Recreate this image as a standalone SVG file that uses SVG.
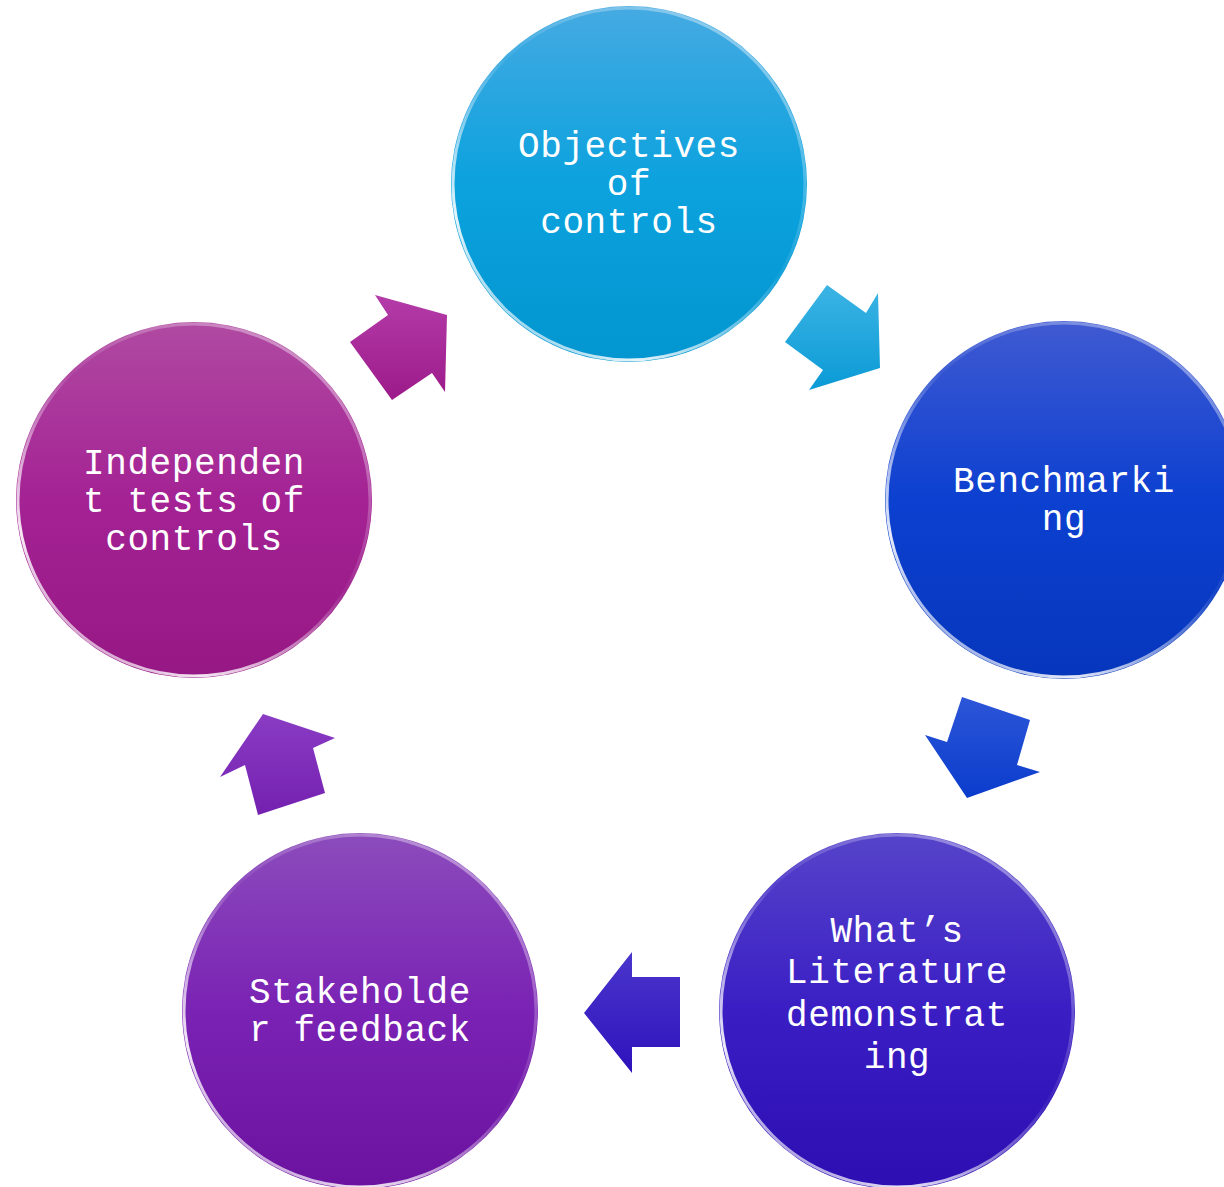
<svg xmlns="http://www.w3.org/2000/svg" width="1224" height="1187" viewBox="0 0 1224 1187">
<defs>
<style>
.lbl{font-family:"Liberation Mono","Courier New",monospace;font-size:36px;fill:#ffffff;text-anchor:middle;letter-spacing:0.6px}
.rim{fill:none;stroke-width:3}
</style>
<linearGradient id="g1" x1="0" y1="0" x2="0" y2="1"><stop offset="0" stop-color="#46aae2"/><stop offset="0.5" stop-color="#0ba2de"/><stop offset="1" stop-color="#0396d0"/></linearGradient>
<linearGradient id="g2" x1="0" y1="0" x2="0" y2="1"><stop offset="0" stop-color="#405ad2"/><stop offset="0.5" stop-color="#0c40d0"/><stop offset="1" stop-color="#0636bc"/></linearGradient>
<linearGradient id="g3" x1="0" y1="0" x2="0" y2="1"><stop offset="0" stop-color="#5644ca"/><stop offset="0.5" stop-color="#3a1ec4"/><stop offset="1" stop-color="#2c0eb2"/></linearGradient>
<linearGradient id="g4" x1="0" y1="0" x2="0" y2="1"><stop offset="0" stop-color="#8c4cbc"/><stop offset="0.5" stop-color="#7a22b4"/><stop offset="1" stop-color="#6c12a0"/></linearGradient>
<linearGradient id="g5" x1="0" y1="0" x2="0" y2="1"><stop offset="0" stop-color="#b04aa2"/><stop offset="0.5" stop-color="#a42294"/><stop offset="1" stop-color="#961884"/></linearGradient>
<linearGradient id="rimg" x1="0.9" y1="0" x2="0.1" y2="1"><stop offset="0" stop-color="#ffffff" stop-opacity="0.5"/><stop offset="0.45" stop-color="#ffffff" stop-opacity="0.05"/><stop offset="0.8" stop-color="#ffffff" stop-opacity="0.9"/><stop offset="1" stop-color="#ffffff" stop-opacity="0.3"/></linearGradient>
<linearGradient id="a1" x1="0" y1="0" x2="0" y2="1"><stop offset="0" stop-color="#3cb4e4"/><stop offset="1" stop-color="#0a9ad6"/></linearGradient>
<linearGradient id="a2" x1="0" y1="0" x2="0" y2="1"><stop offset="0" stop-color="#2c56d8"/><stop offset="1" stop-color="#0a3ccc"/></linearGradient>
<linearGradient id="a3" x1="0" y1="0" x2="0" y2="1"><stop offset="0" stop-color="#4a36cc"/><stop offset="1" stop-color="#2e12bc"/></linearGradient>
<linearGradient id="a4" x1="0" y1="0" x2="0" y2="1"><stop offset="0" stop-color="#8a3cc4"/><stop offset="1" stop-color="#7420b0"/></linearGradient>
<linearGradient id="a5" x1="0" y1="0" x2="0" y2="1"><stop offset="0" stop-color="#b43ca8"/><stop offset="1" stop-color="#9c1a8a"/></linearGradient>
</defs>
<rect width="1224" height="1187" fill="#ffffff"/>
<g id="connectors" stroke-linejoin="miter">
<polygon points="827,285 866,313 878,293 880,368 809,390 823,370 785,342" fill="url(#a1)"/>
<polygon points="962,697 1030,720 1017,765 1040,772 967,798 925,735 947,742" fill="url(#a2)"/>
<polygon points="680,977 632,977 632,952 584,1013 632,1073 632,1047 680,1047" fill="url(#a3)"/>
<polygon points="263,714 335,738 313,748 325,793 258,815 245,765 220,777" fill="url(#a4)"/>
<polygon points="375,295 447,315 445,392 432,373 392,400 350,342 388,315" fill="url(#a5)"/>
</g>
<g id="n1">
<circle cx="629" cy="184" r="178" fill="url(#g1)"/>
<circle cx="629" cy="184" r="176" class="rim" stroke="url(#rimg)"/>
<text class="lbl" x="629" y="157">Objectives</text>
<text class="lbl" x="629" y="195">of</text>
<text class="lbl" x="629" y="233">controls</text>
</g>
<g id="n2">
<circle cx="1064" cy="500" r="179" fill="url(#g2)"/>
<circle cx="1064" cy="500" r="177" class="rim" stroke="url(#rimg)"/>
<text class="lbl" x="1064" y="492">Benchmarki</text>
<text class="lbl" x="1064" y="530">ng</text>
</g>
<g id="n3">
<circle cx="897" cy="1011" r="178" fill="url(#g3)"/>
<circle cx="897" cy="1011" r="176" class="rim" stroke="url(#rimg)"/>
<text class="lbl" x="897" y="942">What’s</text>
<text class="lbl" x="897" y="983">Literature</text>
<text class="lbl" x="897" y="1026">demonstrat</text>
<text class="lbl" x="897" y="1068">ing</text>
</g>
<g id="n4">
<circle cx="360" cy="1011" r="178" fill="url(#g4)"/>
<circle cx="360" cy="1011" r="176" class="rim" stroke="url(#rimg)"/>
<text class="lbl" x="360" y="1003">Stakeholde</text>
<text class="lbl" x="360" y="1041">r feedback</text>
</g>
<g id="n5">
<circle cx="194" cy="500" r="178" fill="url(#g5)"/>
<circle cx="194" cy="500" r="176" class="rim" stroke="url(#rimg)"/>
<text class="lbl" x="194" y="474">Independen</text>
<text class="lbl" x="194" y="512">t tests of</text>
<text class="lbl" x="194" y="550">controls</text>
</g>
</svg>
